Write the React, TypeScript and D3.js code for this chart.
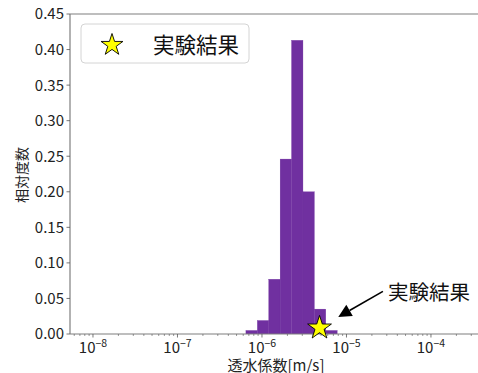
import React from "react";
import * as d3 from "d3";

// Histogram bins in log10(k) space and relative frequencies
const binEdgesLog = [-6.19, -6.055, -5.92, -5.785, -5.65, -5.515, -5.38, -5.245, -5.11];
const frequencies = [0.005, 0.019, 0.077, 0.246, 0.413, 0.2, 0.035, 0.005];

// Measured result
const resultK = [4.8e-6];
const resultFreq = [0.01];

const yTicks = [0, 0.05, 0.1, 0.15, 0.2, 0.25, 0.3, 0.35, 0.4, 0.45];
const xDecades = [-8, -7, -6, -5, -4];

const legendLabel = "実験結果";
const xLabel = "透水係数[m/s]";
const yLabel = "相対度数";

const W = 478;
const H = 373;
const FONT = "'Noto Sans CJK JP', 'Noto Sans', sans-serif";

function starPath(cx: number, cy: number, rOuter: number) {
  const rInner = rOuter * 0.382;
  const pts: [number, number][] = [];
  for (let i = 0; i < 10; i++) {
    const r = i % 2 === 0 ? rOuter : rInner;
    const a = -Math.PI / 2 + (i * Math.PI) / 5;
    pts.push([cx + r * Math.cos(a), cy + r * Math.sin(a)]);
  }
  return d3.line()(pts) + "Z";
}

export default function App() {
  const left = 70;
  const right = 482;
  const top = 14;
  const bottom = 334;

  const x = d3.scaleLog().domain([Math.pow(10, -8.272), Math.pow(10, -3.396)]).range([left, right]);
  const y = d3.scaleLinear().domain([0, 0.45]).range([bottom, top]);

  const minorTicks: number[] = [];
  for (let d = -9; d <= -3; d++) {
    for (let m = 2; m <= 9; m++) {
      const v = m * Math.pow(10, d);
      const px = x(v);
      if (px >= left && px <= W) minorTicks.push(v);
    }
  }

  const axisColor = "#7f7f7f";
  const tickColor = "#555";

  // annotation geometry in data coordinates
  const arrowTip = { k: 8e-6, f: 0.024 };
  const arrowTail = { k: 2.7e-5, f: 0.06 };
  const textPos = { k: 3.1e-5, f: 0.048 };
  const tipX = x(arrowTip.k);
  const tipY = y(arrowTip.f);
  const tailX = x(arrowTail.k);
  const tailY = y(arrowTail.f);
  const ang = Math.atan2(tipY - tailY, tipX - tailX);
  const headLen = 13;
  const headW = 6.5;
  const baseX = tipX - headLen * Math.cos(ang);
  const baseY = tipY - headLen * Math.sin(ang);
  const px = -Math.sin(ang);
  const py = Math.cos(ang);

  return (
    <svg width={W} height={H} style={{ position: "absolute", left: 0, top: 0, background: "#fff" }} fontFamily={FONT}>
      <defs>
        <clipPath id="plotClip">
          <rect x={left} y={top} width={W - left} height={bottom - top} />
        </clipPath>
      </defs>

      {/* histogram bars */}
      <g clipPath="url(#plotClip)">
        {frequencies.map((f, i) => {
          const x0 = x(Math.pow(10, binEdgesLog[i]));
          const x1 = x(Math.pow(10, binEdgesLog[i + 1]));
          return (
            <rect
              key={i}
              x={x0}
              y={y(f)}
              width={x1 - x0}
              height={y(0) - y(f)}
              fill="#7030A0"
              stroke="#7030A0"
              strokeWidth={0.3}
            />
          );
        })}
      </g>

      {/* spines */}
      <line x1={left} x2={W} y1={top} y2={top} stroke={axisColor} strokeWidth={1.2} />
      <line x1={left} x2={left} y1={top} y2={bottom} stroke={axisColor} strokeWidth={1.2} />
      <line x1={left} x2={W} y1={bottom} y2={bottom} stroke={axisColor} strokeWidth={1.2} />

      {/* y ticks */}
      {yTicks.map((t) => (
        <g key={t}>
          <line x1={left - 3.5} x2={left} y1={y(t)} y2={y(t)} stroke={tickColor} strokeWidth={0.8} />
          <text x={left - 6} y={y(t)} dy="0.36em" textAnchor="end" fontSize={15} fill="#222">
            {d3.format(".2f")(t)}
          </text>
        </g>
      ))}

      {/* x ticks */}
      {minorTicks.map((v, i) => (
        <line key={"m" + i} x1={x(v)} x2={x(v)} y1={bottom} y2={bottom + 2} stroke={tickColor} strokeWidth={0.6} />
      ))}
      {xDecades.map((d) => {
        const xp = x(Math.pow(10, d));
        return (
          <g key={d}>
            <line x1={xp} x2={xp} y1={bottom} y2={bottom + 3.5} stroke={tickColor} strokeWidth={0.8} />
            <text x={xp} y={bottom + 18.5} textAnchor="middle" fontSize={15} fill="#222">
              10
              <tspan dy={-6} fontSize={10.5}>
                {"\u2212" + Math.abs(d)}
              </tspan>
            </text>
          </g>
        );
      })}

      {/* axis labels */}
      <text x={(left + W) / 2 + 2} y={370.5} textAnchor="middle" fontSize={15} fill="#222">
        {xLabel}
      </text>
      <text
        transform={`translate(22.5,175) rotate(-90)`}
        textAnchor="middle"
        dy="0.35em"
        fontSize={14}
        fill="#222"
      >
        {yLabel}
      </text>

      {/* measured result marker */}
      {resultK.map((k, i) => (
        <path
          key={i}
          d={starPath(x(k), y(resultFreq[i]) + 1, 12.5)}
          fill="#ffff00"
          stroke="#000"
          strokeWidth={0.9}
          strokeLinejoin="miter"
        />
      ))}

      {/* annotation arrow */}
      <line x1={tailX} y1={tailY} x2={baseX} y2={baseY} stroke="#000" strokeWidth={1.6} />
      <path
        d={`M${tipX},${tipY} L${baseX + px * headW},${baseY + py * headW} L${baseX - px * headW},${baseY - py * headW} Z`}
        fill="#000"
      />
      <text x={x(textPos.k)} y={y(textPos.f)} fontSize={20.5} fill="#111">
        {legendLabel}
      </text>

      {/* legend */}
      <rect x={81} y={24} width={168} height={39} rx={4} ry={4} fill="#fff" fillOpacity={0.8} stroke="#d4d4d4" strokeWidth={1} />
      <path d={starPath(112, 45, 11.5)} fill="#ffff00" stroke="#000" strokeWidth={0.9} />
      <text x={153} y={52.5} fontSize={21.5} fill="#111">
        {legendLabel}
      </text>
    </svg>
  );
}
